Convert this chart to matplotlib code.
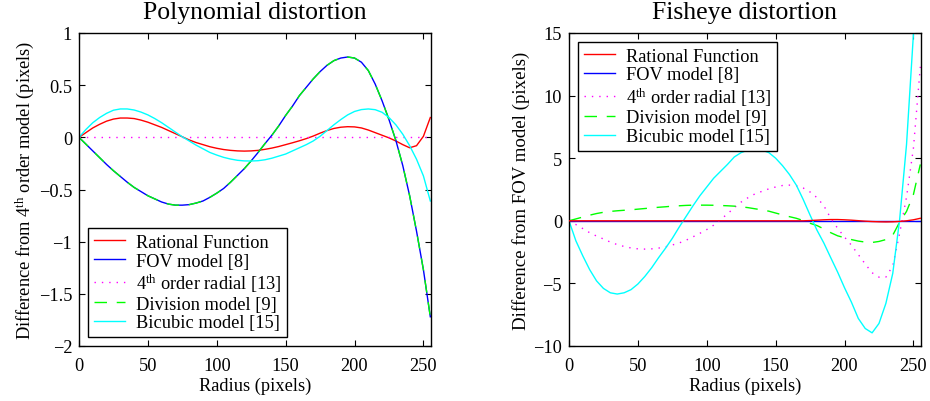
import matplotlib
matplotlib.use("Agg")
import matplotlib.pyplot as plt

plt.rcParams['font.family'] = ['Liberation Serif', 'DejaVu Serif']
plt.rcParams['mathtext.fontset'] = 'custom'
plt.rcParams['mathtext.rm'] = 'Liberation Serif'
plt.rcParams['mathtext.it'] = 'Liberation Serif:italic'
plt.rcParams['axes.unicode_minus'] = True

# ---------------- data ----------------
radius = list(range(0, 256, 5))  # 0,5,...,255

labels = ["Rational Function", "FOV model [8]", "4$^{\\mathrm{th}}$ order radial [13]",
          "Division model [9]", "Bicubic model [15]"]

# Polynomial distortion (difference from 4th order model)
poly_rational = [0, 0.045, 0.09, 0.125, 0.155, 0.175, 0.185, 0.185, 0.18, 0.165,
                 0.145, 0.12, 0.095, 0.065, 0.035, 0.005, -0.025, -0.05, -0.07, -0.09,
                 -0.105, -0.117, -0.125, -0.13, -0.132, -0.13, -0.125, -0.115, -0.103, -0.088,
                 -0.07, -0.052, -0.033, -0.012, 0.012, 0.04, 0.065, 0.085, 0.097, 0.102,
                 0.1, 0.09, 0.07, 0.045, 0.02, -0.005, -0.035, -0.07, -0.1, -0.08,
                 0.01, 0.19]
poly_fov = [0, -0.065, -0.13, -0.195, -0.26, -0.32, -0.375, -0.43, -0.48, -0.52,
            -0.56, -0.59, -0.62, -0.64, -0.65, -0.65, -0.645, -0.63, -0.61, -0.575,
            -0.535, -0.49, -0.43, -0.365, -0.30, -0.225, -0.145, -0.06, 0.02, 0.11,
            0.21, 0.30, 0.40, 0.48, 0.56, 0.63, 0.69, 0.735, 0.76, 0.77,
            0.76, 0.72, 0.64, 0.51, 0.35, 0.17, -0.03, -0.27, -0.56, -0.90,
            -1.27, -1.72]
poly_radial4 = [0] * 52
poly_division = [0, -0.065, -0.13, -0.195, -0.26, -0.32, -0.375, -0.43, -0.48, -0.52,
                 -0.56, -0.59, -0.62, -0.64, -0.65, -0.65, -0.645, -0.63, -0.61, -0.575,
                 -0.535, -0.49, -0.43, -0.365, -0.30, -0.225, -0.145, -0.06, 0.02, 0.11,
                 0.21, 0.30, 0.40, 0.48, 0.56, 0.63, 0.69, 0.735, 0.76, 0.77,
                 0.76, 0.72, 0.64, 0.51, 0.35, 0.17, -0.03, -0.27, -0.56, -0.90,
                 -1.27, -1.72]
poly_bicubic = [0, 0.075, 0.14, 0.19, 0.23, 0.26, 0.272, 0.272, 0.262, 0.242,
                0.215, 0.18, 0.14, 0.095, 0.05, 0.005, -0.035, -0.075, -0.11, -0.145,
                -0.17, -0.192, -0.208, -0.22, -0.226, -0.227, -0.224, -0.215, -0.2, -0.18,
                -0.16, -0.13, -0.1, -0.07, -0.035, 0.01, 0.065, 0.12, 0.17, 0.215,
                0.248, 0.266, 0.272, 0.265, 0.24, 0.19, 0.12, 0.03, -0.08, -0.21,
                -0.37, -0.61]

# Fisheye distortion (difference from FOV model)
fish_rational = [0] * 35 + [0.02, 0.05, 0.08, 0.1, 0.1, 0.08, 0.05, 0.01, -0.03, -0.06,
                            -0.08, -0.09, -0.08, -0.05, 0.0, 0.08, 0.2]
fish_fov = [0] * 52
fish_radial4 = [0, -0.3, -0.62, -0.95, -1.22, -1.45, -1.7, -1.9, -2.05, -2.17,
                -2.24, -2.26, -2.24, -2.18, -2.08, -1.93, -1.77, -1.55, -1.28, -1.0,
                -0.7, -0.35, 0.1, 0.55, 1.05, 1.5, 1.85, 2.15, 2.35, 2.55,
                2.7, 2.82, 2.85, 2.8, 2.62, 2.3, 1.85, 1.2, 0.2, -0.6,
                -1.3, -1.95, -2.7, -3.45, -4.15, -4.5, -4.5, -3.6, -1.0, 1.9,
                5.8, 12.3]
fish_division = [0, 0.15, 0.3, 0.45, 0.58, 0.68, 0.75, 0.8, 0.84, 0.88,
                 0.93, 0.98, 1.03, 1.08, 1.12, 1.17, 1.2, 1.23, 1.25, 1.25,
                 1.25, 1.24, 1.22, 1.2, 1.17, 1.12, 1.05, 0.96, 0.87, 0.77,
                 0.62, 0.47, 0.33, 0.2, 0.02, -0.2, -0.38, -0.65, -0.95, -1.2,
                 -1.35, -1.5, -1.62, -1.7, -1.73, -1.65, -1.5, -1.15, -0.1, 0.75,
                 2.1, 4.5]
fish_bicubic = [0, -1.6, -2.8, -3.9, -4.8, -5.4, -5.75, -5.85, -5.75, -5.5,
                -5.05, -4.45, -3.75, -2.95, -2.2, -1.4, -0.5, 0.35, 1.2, 2.0,
                2.7, 3.4, 3.95, 4.5, 5.1, 5.45, 5.65, 5.75, 5.65, 5.45,
                5.0, 4.4, 3.7, 2.85, 1.7, 0.45, -0.75, -1.78, -2.95, -4.1,
                -5.35, -6.5, -7.8, -8.6, -8.95, -8.2, -6.6, -4.2, 0.1, 6.1,
                14.9, 26.0]

titles = ["Polynomial distortion", "Fisheye distortion"]
ylabels = ["Difference from 4$^{\\mathrm{th}}$ order model (pixels)",
           "Difference from FOV model (pixels)"]
xlabel = "Radius (pixels)"
x_ticks = [0, 50, 100, 150, 200, 250]
poly_yticks = [-2, -1.5, -1, -0.5, 0, 0.5, 1]
poly_yticklabels = ["\u22122", "\u22121.5", "\u22121", "\u22120.5", "0", "0.5", "1"]
fish_yticks = [-10, -5, 0, 5, 10, 15]
fish_yticklabels = ["\u221210", "\u22125", "0", "5", "10", "15"]

# ---------------- styles ----------------
styles = [
    dict(color=(1, 0, 0), lw=1.0, ls='-'),
    dict(color=(0, 0, 1), lw=1.0, ls='-'),
    dict(color=(1, 0, 1), lw=1.0, ls=(0, (1, 4.3))),
    dict(color=(0, 1, 0), lw=1.0, ls=(0, (9, 7))),
    dict(color=(0, 1, 1), lw=1.0, ls='-'),
]

W, H = 930, 402
fig = plt.figure(figsize=(W / 100, H / 100), dpi=100)

def ax_rect(l, t, r, b):
    return [l / W, 1 - b / H, (r - l) / W, (b - t) / H]

axL = fig.add_axes(ax_rect(79, 34, 431, 347))
axR = fig.add_axes(ax_rect(569, 34, 921, 347))

FS = 13.2
LFS = 13.2

def style_axes(ax, yticks, yticklabels, ylim, title, ylabel, ylfs):
    ax.set_xlim(0, 255.5)
    ax.set_ylim(*ylim)
    ax.set_xticks(x_ticks)
    ax.set_xticklabels([str(t) for t in x_ticks], fontsize=FS)
    ax.set_yticks(yticks)
    ax.set_yticklabels(yticklabels, fontsize=FS)
    ax.tick_params(direction='in', length=4, width=0.8, top=True, right=True, pad=5)
    ax.tick_params(axis='x', pad=8)
    for s in ax.spines.values():
        s.set_linewidth(1.0)
    ax.set_title(title, fontsize=18.5, pad=11)
    ax.set_xlabel(xlabel, fontsize=FS, labelpad=2)
    ax.set_ylabel(ylabel, fontsize=ylfs, labelpad=2)

poly_series = [poly_rational, poly_fov, poly_radial4, poly_division, poly_bicubic]
fish_series = [fish_rational, fish_fov, fish_radial4, fish_division, fish_bicubic]

handles = []
for i, (ys, st) in enumerate(zip(poly_series, styles)):
    h, = axL.plot(radius, ys, color=st['color'], lw=st['lw'], ls=st['ls'], label=labels[i])
    handles.append(h)
style_axes(axL, poly_yticks, poly_yticklabels, (-2, 1), titles[0], ylabels[0], 13.2)
legL = axL.legend(handles=handles, loc='lower left', bbox_to_anchor=(0.0256, 0.0288),
                  borderaxespad=0, fontsize=LFS, frameon=True, fancybox=False,
                  edgecolor='black', framealpha=1, handlelength=1.7, handletextpad=0.6,
                  labelspacing=0.1, borderpad=0.3)
legL.get_frame().set_linewidth(1.0)

handlesR = []
zorders = [3, 2, 2, 2, 2]
for i, (ys, st) in enumerate(zip(fish_series, styles)):
    h, = axR.plot(radius, ys, color=st['color'], lw=st['lw'], ls=st['ls'], label=labels[i],
                  zorder=zorders[i])
    handlesR.append(h)
style_axes(axR, fish_yticks, fish_yticklabels, (-10, 15), titles[1], ylabels[1], 13.6)
legR = axR.legend(handles=handlesR, loc='upper left', bbox_to_anchor=(0.0256, 0.971),
                  borderaxespad=0, fontsize=LFS, frameon=True, fancybox=False,
                  edgecolor='black', framealpha=1, handlelength=1.7, handletextpad=0.6,
                  labelspacing=0.1, borderpad=0.3)
legR.get_frame().set_linewidth(1.0)

fig.savefig("out.png", dpi=100)
